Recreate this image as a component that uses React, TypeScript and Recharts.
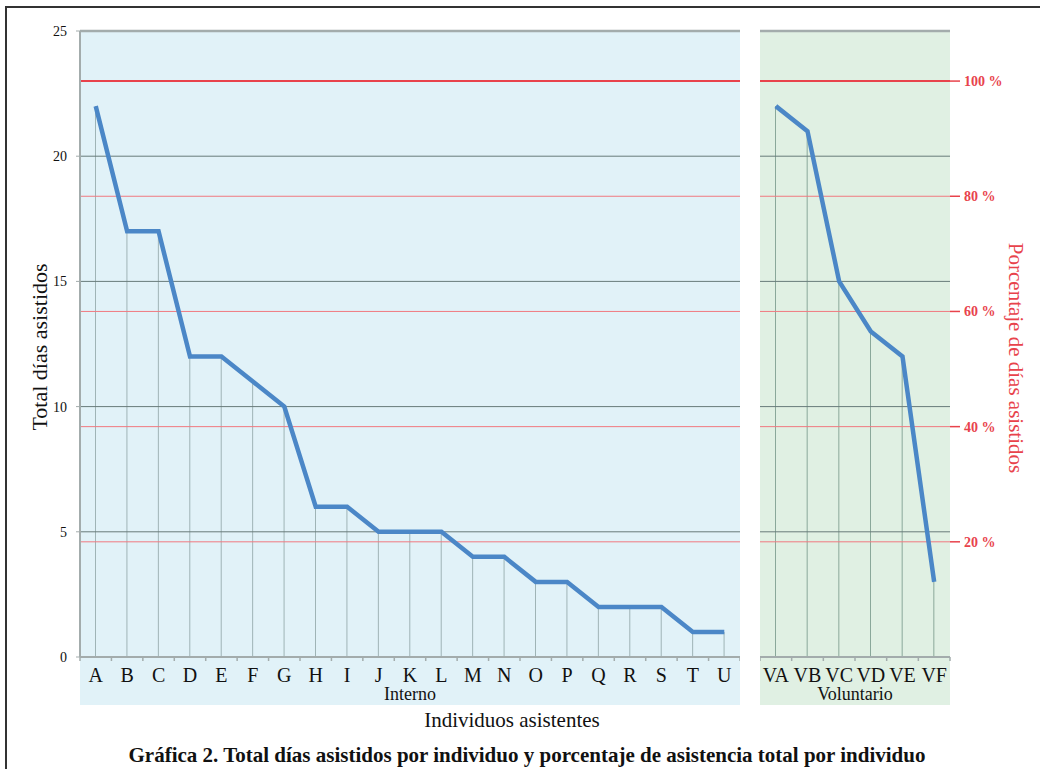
import React from 'react';
import { ComposedChart, Line, Bar, XAxis, YAxis, ReferenceLine } from 'recharts';

const INTERNO_LABELS = ['A', 'B', 'C', 'D', 'E', 'F', 'G', 'H', 'I', 'J', 'K', 'L', 'M', 'N', 'O', 'P', 'Q', 'R', 'S', 'T', 'U'];
const INTERNO_DIAS = [22, 17, 17, 12, 12, 11, 10, 6, 6, 5, 5, 5, 4, 4, 3, 3, 2, 2, 2, 1, 1];

const VOLUNTARIO_LABELS = ['VA', 'VB', 'VC', 'VD', 'VE', 'VF'];
const VOLUNTARIO_DIAS = [22, 21, 15, 13, 12, 3];

const TOTAL_DIAS = 23;
const DIAS_TICKS = [0, 5, 10, 15, 20, 25];
const DIAS_GRID = [5, 10, 15, 20];
const PCT_TICKS = [20, 40, 60, 80, 100];
const DIAS_MAX = 25;
const PCT_MAX = (DIAS_MAX / TOTAL_DIAS) * 100;

const SERIF = '"Liberation Serif", "Times New Roman", serif';
const RED = '#e8434c';
const LINE_BLUE = '#4b87c7';
const GRID_DARK = '#687b7a';
const AXIS_GRAY = '#a3acac';
const DROP_GRAY = '#9fb4b6';

const internoData = INTERNO_LABELS.map((name, i) => ({ name, dias: INTERNO_DIAS[i] }));
const voluntarioData = VOLUNTARIO_LABELS.map((name, i) => ({ name, dias: VOLUNTARIO_DIAS[i] }));

// x tick: label centred, small tick marks on the band edges
function makeTick(band: number, count: number) {
  return (props: any) => {
    const { x, y, payload, index } = props;
    return (
      <g>
        <line x1={x - band / 2} x2={x - band / 2} y1={y} y2={y + 4} stroke={AXIS_GRAY} strokeWidth={1.5} />
        {index === count - 1 && (
          <line x1={x + band / 2} x2={x + band / 2} y1={y} y2={y + 4} stroke={AXIS_GRAY} strokeWidth={1.5} />
        )}
        <text x={x} y={y + 25} textAnchor="middle" fill="#111" fontSize={20} fontFamily={SERIF}>
          {payload.value}
        </text>
      </g>
    );
  };
}

export default function App() {
  const leftBand = 660 / INTERNO_LABELS.length;
  const rightBand = 190 / VOLUNTARIO_LABELS.length;

  return (
    <div style={{ position: 'absolute', left: 0, top: 0, width: 1040, height: 769, overflow: 'hidden', background: '#fff', fontFamily: SERIF }}>
      <div style={{ position: 'absolute', left: 5, top: 6, width: 1100, height: 800, borderLeft: '2px solid #333', borderTop: '2px solid #333' }} />
      <div style={{ position: 'absolute', left: 80, top: 31, width: 660, height: 674, background: '#e1f2f8' }} />
      <div style={{ position: 'absolute', left: 760, top: 31, width: 190, height: 674, background: '#e0f0e3' }} />

      <div style={{ position: 'absolute', left: 0, top: 0 }}>
        <ComposedChart width={740} height={700} data={internoData} margin={{ top: 31, right: 0, bottom: 0, left: 0 }}>
          <XAxis
            dataKey="name"
            height={43}
            interval={0}
            tickSize={0}
            tickMargin={0}
            axisLine={{ stroke: AXIS_GRAY, strokeWidth: 2 }}
            tickLine={false}
            tick={makeTick(leftBand, INTERNO_LABELS.length)}
          />
          <YAxis
            width={80}
            domain={[0, DIAS_MAX]}
            ticks={DIAS_TICKS}
            interval={0}
            tickSize={4}
            tickMargin={9}
            axisLine={{ stroke: AXIS_GRAY, strokeWidth: 2 }}
            tickLine={{ stroke: AXIS_GRAY }}
            tick={{ fill: '#111', fontSize: 14, fontFamily: SERIF }}
          />
          <YAxis yAxisId="pct" hide domain={[0, PCT_MAX]} allowDataOverflow />
          {DIAS_GRID.map((v) => (
            <ReferenceLine key={'g' + v} y={v} stroke={GRID_DARK} strokeWidth={1} />
          ))}
          <ReferenceLine y={DIAS_MAX} stroke={AXIS_GRAY} strokeWidth={2.5} />
          {PCT_TICKS.map((v) => (
            <ReferenceLine
              key={'p' + v}
              yAxisId="pct"
              y={v}
              stroke={v === 100 ? RED : '#f07a80'}
              strokeWidth={v === 100 ? 2 : 1}
            />
          ))}
          <Bar dataKey="dias" barSize={1} fill={DROP_GRAY} isAnimationActive={false} />
          <Line
            dataKey="dias"
            type="linear"
            stroke={LINE_BLUE}
            strokeWidth={4.5}
            strokeLinejoin="miter"
            dot={false}
            activeDot={false}
            isAnimationActive={false}
          />
        </ComposedChart>
      </div>

      <div style={{ position: 'absolute', left: 760, top: 0 }}>
        <ComposedChart width={280} height={700} data={voluntarioData} margin={{ top: 31, right: 0, bottom: 0, left: 0 }}>
          <XAxis
            dataKey="name"
            height={43}
            interval={0}
            tickSize={0}
            tickMargin={0}
            axisLine={{ stroke: AXIS_GRAY, strokeWidth: 2 }}
            tickLine={false}
            tick={makeTick(rightBand, VOLUNTARIO_LABELS.length)}
          />
          <YAxis hide domain={[0, DIAS_MAX]} allowDataOverflow />
          <YAxis
            yAxisId="pct"
            orientation="right"
            width={90}
            domain={[0, PCT_MAX]}
            ticks={PCT_TICKS}
            interval={0}
            allowDataOverflow
            axisLine={false}
            tickSize={10}
            tickMargin={4}
            tickLine={{ stroke: RED, strokeWidth: 1.5 }}
            tickFormatter={(v: number) => `${v} %`}
            tick={{ fill: RED, fontSize: 14, fontFamily: SERIF, fontWeight: 'bold' }}
          />
          {DIAS_GRID.map((v) => (
            <ReferenceLine key={'g' + v} y={v} stroke={GRID_DARK} strokeWidth={1} />
          ))}
          <ReferenceLine y={DIAS_MAX} stroke={AXIS_GRAY} strokeWidth={2.5} />
          {PCT_TICKS.map((v) => (
            <ReferenceLine
              key={'p' + v}
              yAxisId="pct"
              y={v}
              stroke={v === 100 ? RED : '#f07a80'}
              strokeWidth={v === 100 ? 2 : 1}
            />
          ))}
          <Bar dataKey="dias" barSize={1} fill="#8aa89a" isAnimationActive={false} />
          <Line
            dataKey="dias"
            type="linear"
            stroke={LINE_BLUE}
            strokeWidth={4.5}
            strokeLinejoin="miter"
            dot={false}
            activeDot={false}
            isAnimationActive={false}
          />
        </ComposedChart>
      </div>

      <div style={{ position: 'absolute', left: 80, width: 660, top: 684, textAlign: 'center', fontSize: 18, color: '#111', lineHeight: '20px' }}>
        Interno
      </div>
      <div style={{ position: 'absolute', left: 760, width: 190, top: 684, textAlign: 'center', fontSize: 18, color: '#111', lineHeight: '20px' }}>
        Voluntario
      </div>
      <div style={{ position: 'absolute', left: 0, width: 1024, top: 707, textAlign: 'center', fontSize: 21, color: '#111', lineHeight: '26px' }}>
        Individuos asistentes
      </div>
      <div style={{ position: 'absolute', left: 0, width: 1054, top: 742, textAlign: 'center', fontSize: 21, fontWeight: 'bold', color: '#111', lineHeight: '26px' }}>
        Gráfica 2. Total días asistidos por individuo y porcentaje de asistencia total por individuo
      </div>
      <div style={{ position: 'absolute', left: 40, top: 347, width: 0, height: 0 }}>
        <div style={{ position: 'absolute', transform: 'translate(-50%, -50%) rotate(-90deg)', whiteSpace: 'nowrap', fontSize: 22, color: '#111' }}>
          Total días asistidos
        </div>
      </div>
      <div style={{ position: 'absolute', left: 1015, top: 358, width: 0, height: 0 }}>
        <div style={{ position: 'absolute', transform: 'translate(-50%, -50%) rotate(90deg)', whiteSpace: 'nowrap', fontSize: 21, color: RED }}>
          Porcentaje de días asistidos
        </div>
      </div>
    </div>
  );
}
